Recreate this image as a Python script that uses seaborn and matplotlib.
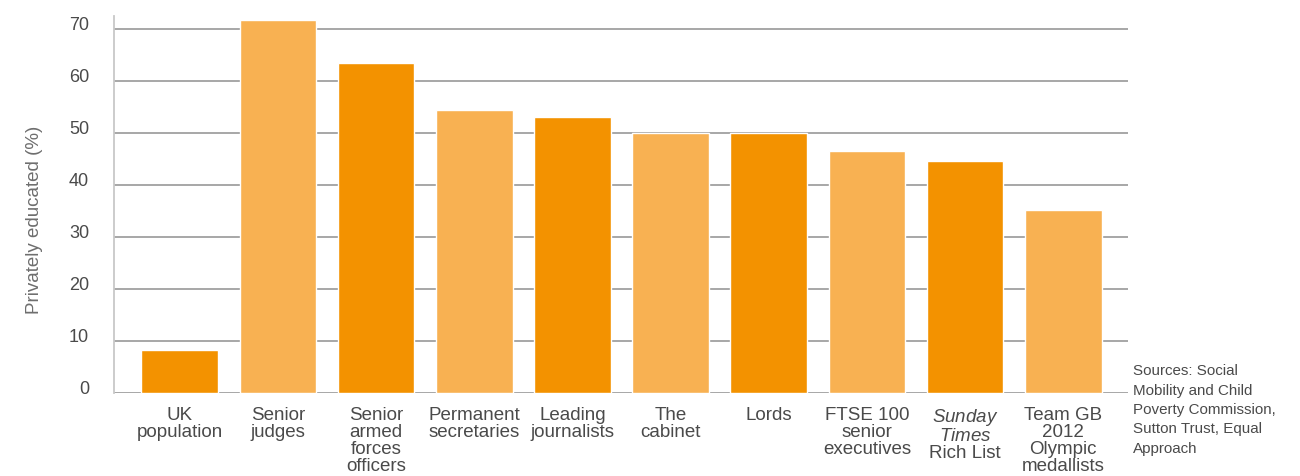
import pandas as pd
import seaborn as sns
import matplotlib.pyplot as plt
import matplotlib.transforms as mtransforms

# values
groups = [
    "UK\npopulation",
    "Senior\njudges",
    "Senior\narmed\nforces\nofficers",
    "Permanent\nsecretaries",
    "Leading\njournalists",
    "The\ncabinet",
    "Lords",
    "FTSE 100\nsenior\nexecutives",
    "$\\mathit{Sunday}$\n$\\mathit{Times}$\nRich List",
    "Team GB\n2012\nOlympic\nmedallists",
]
privately_educated = [8.2, 71.7, 63.5, 54.5, 53.0, 50.0, 50.0, 46.5, 44.7, 35.2]
y_ticks = [0, 10, 20, 30, 40, 50, 60, 70]
sources = "Sources: Social\nMobility and Child\nPoverty Commission,\nSutton Trust, Equal\nApproach"

dark = "#F39200"
light = "#F8B152"
text_col = "#4a4a4a"

df = pd.DataFrame({"group": groups, "pct": privately_educated})
palette = [dark if i % 2 == 0 else light for i in range(len(groups))]

sns.set_theme(style="white")
plt.rcParams["font.family"] = ["Liberation Sans", "DejaVu Sans"]
plt.rcParams["mathtext.fontset"] = "custom"
plt.rcParams["mathtext.it"] = "Liberation Sans:italic"
plt.rcParams["mathtext.rm"] = "Liberation Sans"

fig = plt.figure(figsize=(13, 4.76), dpi=100)
ax = fig.add_axes([0.0877, 0.1744, 0.78, 0.792])

ax.set_axisbelow(True)
for v in y_ticks:
    ax.axhline(v, color="#a0a0a0", lw=1.3, zorder=0)

sns.barplot(data=df, x="group", y="pct", hue="group", palette=palette,
            width=0.78, legend=False, saturation=1, ax=ax)

ax.set_xlim(-0.67, 9.66)
ax.set_ylim(0, 72.5)
ax.set_yticks(y_ticks)
ax.set_yticklabels([str(t) for t in y_ticks])
ax.tick_params(axis="y", length=10, width=1.3, color="#a0a0a0", pad=8,
               labelsize=13, labelcolor=text_col)
ax.tick_params(axis="x", length=0, pad=10, labelsize=13.5, labelcolor=text_col)
for lbl in ax.get_xticklabels():
    lbl.set_linespacing(1.0)

offset = mtransforms.ScaledTranslation(0, 5 / 100, fig.dpi_scale_trans)
for lbl in ax.get_yticklabels():
    lbl.set_transform(lbl.get_transform() + offset)

for side in ["top", "right", "bottom"]:
    ax.spines[side].set_visible(False)
ax.spines["left"].set_color("#c8c8c8")
ax.spines["left"].set_linewidth(1.3)

ax.set_xlabel("")
ax.set_ylabel("Privately educated (%)", fontsize=13.5, color="#6e6e6e")
ax.yaxis.set_label_coords(-0.070, 0.46)

fig.text(1133 / 1300, 1 - 364 / 476, sources, fontsize=10.9, color=text_col,
         va="top", ha="left", linespacing=1.5)

fig.savefig("out.png", dpi=100)
